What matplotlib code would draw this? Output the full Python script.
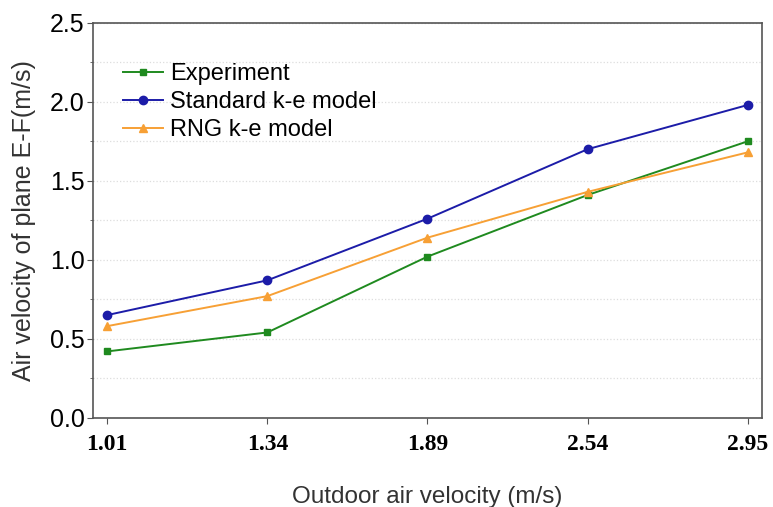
import numpy as np
import matplotlib.pyplot as plt
from matplotlib.ticker import MultipleLocator

# Data
velocity_labels = ['1.01', '1.34', '1.89', '2.54', '2.95']
experiment = [0.42, 0.54, 1.02, 1.41, 1.75]
standard_ke = [0.65, 0.87, 1.26, 1.70, 1.98]
rng_ke = [0.58, 0.77, 1.14, 1.43, 1.68]

plt.rcParams['font.family'] = ['Liberation Sans', 'DejaVu Sans']

fig = plt.figure(figsize=(7.73, 5.07), dpi=100)
ax = fig.add_axes([0.120, 0.176, 0.866, 0.779])

x = np.arange(len(velocity_labels))
ax.plot(x, experiment, color='#1f8a1f', marker='s', markersize=5, lw=1.4, label='Experiment')
ax.plot(x, standard_ke, color='#1c1ca8', marker='o', markersize=6, lw=1.4, label='Standard k-e model')
ax.plot(x, rng_ke, color='#f7a035', marker='^', markersize=6, lw=1.4, label='RNG k-e model')

ax.set_xlim(-0.09, 4.09)
ax.set_ylim(0, 2.5)
ax.set_xticks(x)
ax.set_xticklabels(velocity_labels, fontfamily='Liberation Serif', fontweight='bold', fontsize=17)
ax.yaxis.set_major_locator(MultipleLocator(0.5))
ax.yaxis.set_minor_locator(MultipleLocator(0.25))
ax.tick_params(axis='y', labelsize=18, length=4, color='#555555', pad=2)
ax.tick_params(axis='y', which='minor', length=2, color='#555555')
ax.tick_params(axis='x', length=4, pad=8, color='#555555')
ax.grid(axis='y', which='both', color='#dddddd', linestyle=':', lw=0.9)
ax.set_axisbelow(True)
for s in ax.spines.values():
    s.set_color('#555555')
    s.set_linewidth(1.2)

ax.set_xlabel('Outdoor air velocity (m/s)', fontsize=17.5, labelpad=22, color='#333333')
ax.set_ylabel('Air velocity of plane E-F(m/s)', fontsize=18, labelpad=10, color='#333333')

ax.legend(loc='upper left', bbox_to_anchor=(0.045, 0.897), frameon=False, fontsize=17,
          handlelength=1.7, handletextpad=0.3, labelspacing=0.25, borderaxespad=0,
          borderpad=0)

fig.savefig('out.png', dpi=100)
